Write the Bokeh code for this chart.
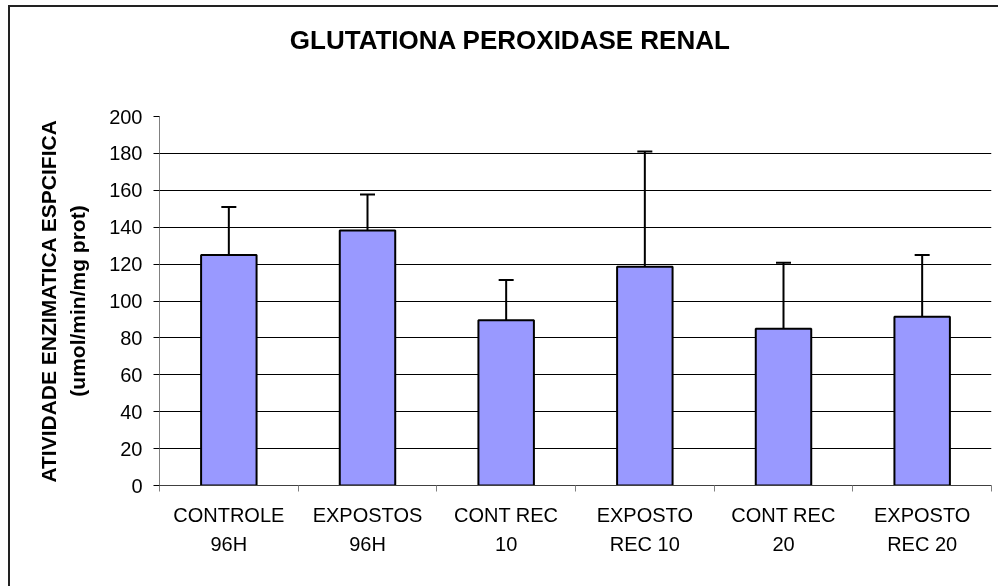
from bokeh.plotting import figure
from bokeh.models import Range1d, FixedTicker, Whisker, TeeHead, ColumnDataSource, LinearAxis
from bokeh.embed import file_html
from bokeh.resources import INLINE

categories = ["CONTROLE\n96H", "EXPOSTOS\n96H", "CONT REC\n10", "EXPOSTO\nREC 10", "CONT REC\n20", "EXPOSTO\nREC 20"]
means = [125.0, 138.2, 89.6, 118.5, 85.0, 91.5]
errors = [26.0, 19.5, 21.8, 62.5, 35.7, 33.5]
y_ticks = [0, 20, 40, 60, 80, 100, 120, 140, 160, 180, 200]
title_text = "GLUTATIONA PEROXIDASE RENAL"
ylabel_text = "ATIVIDADE ENZIMATICA ESPCIFICA\n(umol/min/mg prot)"

FONT = "Liberation Sans"

xs = [i + 0.5 for i in range(len(categories))]
upper = [m + e for m, e in zip(means, errors)]

# the chart box runs past the right and bottom edges of the window, as in the reference
p = figure(width=1000, height=590, output_backend="svg", toolbar_location=None,
           x_range=Range1d(0, len(categories)), y_range=Range1d(0, 200),
           min_border_left=149, min_border_right=19, min_border_top=109, min_border_bottom=112)
p.title_location = None
p.styles = {"position": "fixed", "left": "10px", "top": "7px",
            "box-shadow": "-2px -2px 0px 0px #222222"}
p.outline_line_color = None
p.background_fill_color = "white"
p.border_fill_color = "white"

xa = p.below[0]
ya = p.left[0]

# grid
p.xgrid.visible = False
p.ygrid.ticker = FixedTicker(ticks=y_ticks)
p.ygrid.grid_line_color = "black"
p.ygrid.grid_line_width = 1

# y axis
ya.ticker = FixedTicker(ticks=y_ticks)
ya.axis_line_color = "#808080"
ya.axis_line_width = 1
ya.major_tick_out = 6
ya.major_tick_in = 0
ya.major_tick_line_color = "black"
ya.minor_tick_line_color = None
ya.major_label_text_font = FONT
ya.major_label_text_font_size = "20px"
ya.major_label_text_color = "black"
ya.major_label_standoff = 11
ya.axis_label = ylabel_text
ya.axis_label_text_font = FONT
ya.axis_label_text_font_size = "21px"
ya.axis_label_text_font_style = "bold"
ya.axis_label_text_color = "black"
ya.axis_label_text_line_height = 1.25
ya.axis_label_standoff = 17

# x axis
xa.ticker = FixedTicker(ticks=xs, minor_ticks=list(range(len(categories) + 1)))
xa.major_label_overrides = {x: c for x, c in zip(xs, categories)}
xa.axis_line_color = "#404040"
xa.major_tick_line_color = None
xa.major_tick_out = 0
xa.major_tick_in = 0
xa.minor_tick_out = 6
xa.minor_tick_in = 0
xa.minor_tick_line_color = "#808080"
xa.major_label_text_font = FONT
xa.major_label_text_font_size = "20px"
xa.major_label_text_color = "black"
xa.major_label_text_line_height = 1.35
xa.major_label_standoff = 12

# title, drawn as the single label of a bare axis above the frame
title_pos = 2.53  # title centre, in category widths from the left of the frame
title_axis = LinearAxis(ticker=FixedTicker(ticks=[title_pos]),
                        major_label_overrides={title_pos: title_text},
                        axis_line_color=None, major_tick_line_color=None,
                        minor_tick_line_color=None, major_tick_out=0, major_tick_in=0,
                        major_label_standoff=62, major_label_text_font=FONT,
                        major_label_text_font_size="26px", major_label_text_font_style="bold",
                        major_label_text_color="black")
p.add_layout(title_axis, "above")

# bars
p.vbar(x=xs, top=means, width=0.4, bottom=0, fill_color="#9999FF",
       line_color="black", line_width=2)

# error bars (upper only)
src = ColumnDataSource(data=dict(base=xs, lower=means, upper=upper))
w = Whisker(source=src, base="base", lower="lower", upper="upper",
            line_color="black", line_width=2,
            upper_head=TeeHead(size=15, line_color="black", line_width=2),
            lower_head=None)
p.add_layout(w)

open("out.html", "w").write(file_html(p, INLINE))
